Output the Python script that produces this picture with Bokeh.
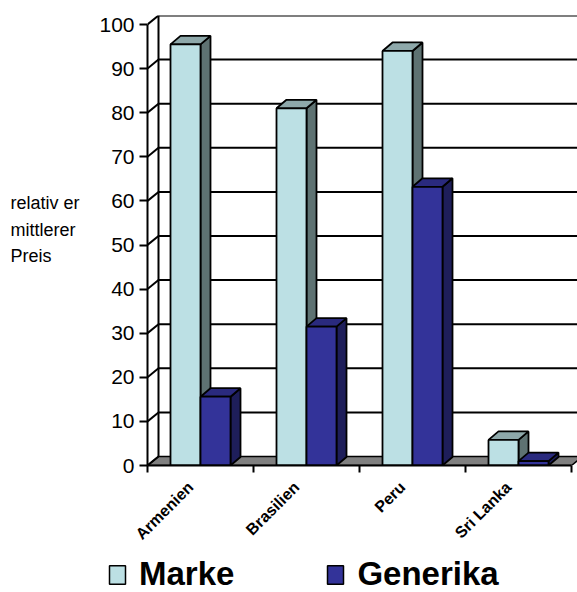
from math import pi
from bokeh.plotting import figure
from bokeh.layouts import row, column
from bokeh.models import Range1d, LinearAxis, FixedTicker, Legend, LegendItem
from bokeh.core.properties import value
from bokeh.embed import file_html
from bokeh.resources import INLINE

# ---- data ----
categories = ["Armenien", "Brasilien", "Peru", "Sri Lanka"]
marke = [95.5, 81, 94, 5.8]
generika = [15.6, 31.5, 63.2, 1]
series_names = ["Marke", "Generika"]
y_ticks = [0, 10, 20, 30, 40, 50, 60, 70, 80, 90, 100]
y_title_lines = ["relativ er", "mittlerer", "Preis"]

# ---- layout ----
W, H = 577, 592
WT = 95                       # width of the y-title strip
HL = 38                       # height of the legend strip
HM = H - HL                   # height of the main chart
L, R, T, B = 147, 0, 15, HM - 465
cat_px, unit_px = 106.0, 4.41
x_end = (W - L - R) / cat_px
y_end = (HM - T - B) / unit_px
bw = 30 / cat_px                       # bar width
dx, dy = 10 / cat_px, 8.5 / unit_px    # bar depth
wdx, wdy = 11 / cat_px, 9 / unit_px    # wall depth
n = len(categories)

colors = {
    "Marke": ("#BCE0E4", "#5E7272", "#8EA8AA"),
    "Generika": ("#333399", "#1E1E5A", "#2A2A7E"),
}


def blank(fig):
    fig.outline_line_color = None
    fig.xgrid.visible = False
    fig.ygrid.visible = False
    return fig


# ---- y title strip (its frame is aligned with the chart frame: page y 15..465) ----
tf = blank(figure(width=WT, height=HM, x_range=Range1d(0, WT), y_range=Range1d(HM - B, T),
                  output_backend="svg", toolbar_location=None,
                  x_axis_location=None, y_axis_location=None, min_border=0))
title_px_y = [202, 229, 255]
tf.text(x=[10] * len(y_title_lines), y=title_px_y, text=y_title_lines,
        text_font=value("Liberation Sans"), text_font_size="18px",
        text_baseline="middle", text_color="black")

# ---- main chart ----
p = blank(figure(width=W - WT, height=HM, x_range=Range1d(0, x_end), y_range=Range1d(0, y_end),
                 output_backend="svg", toolbar_location=None,
                 x_axis_location=None, y_axis_location=None,
                 min_border_left=L - WT, min_border_right=R, min_border_top=T,
                 min_border_bottom=B))

# floor
p.patch([0, n, n + wdx, wdx], [0, 0, wdy, wdy], fill_color="#808080",
        line_color="black", line_width=1.5)

# back wall grid lines and side connectors
gy = [v for v in y_ticks if v > 0]
p.segment(x0=[wdx] * len(gy), y0=[v + wdy for v in gy], x1=[x_end + 1] * len(gy),
          y1=[v + wdy for v in gy], line_color="black", line_width=2)
p.segment(x0=[0] * len(y_ticks), y0=y_ticks, x1=[wdx] * len(y_ticks),
          y1=[v + wdy for v in y_ticks], line_color="black", line_width=2)
p.segment(x0=[wdx], y0=[wdy], x1=[wdx], y1=[max(y_ticks) + wdy],
          line_color="black", line_width=2)

for s, (name, vals) in enumerate(zip(series_names, [marke, generika])):
    front_c, side_c, top_c = colors[name]
    x0 = [i + 0.5 + (s - 1) * bw for i in range(n)]
    x1 = [a + bw for a in x0]
    side_xs = [[b, b + dx, b + dx, b] for b in x1]
    side_ys = [[0, dy, v + dy, v] for v in vals]
    top_xs = [[a, b, b + dx, a + dx] for a, b in zip(x0, x1)]
    top_ys = [[v, v, v + dy, v + dy] for v in vals]
    p.patches(side_xs, side_ys, fill_color=side_c, line_color="black", line_width=1.8)
    p.patches(top_xs, top_ys, fill_color=top_c, line_color="black", line_width=1.8)
    p.quad(left=x0, right=x1, bottom=[0] * n, top=vals, fill_color=front_c,
           line_color="black", line_width=1.8)

# axes
yaxis = LinearAxis(ticker=FixedTicker(ticks=y_ticks), bounds=(0, 100),
                   major_tick_out=8, major_tick_in=0, minor_tick_out=0, minor_tick_in=0,
                   axis_line_width=2, major_tick_line_width=2,
                   major_label_text_font="Liberation Sans", major_label_text_font_size="21px",
                   major_label_text_color="black", major_label_standoff=5)
p.add_layout(yaxis, "left")

label_shift = 10 / cat_px
label_pos = [i + 0.5 - label_shift for i in range(n)]
xaxis = LinearAxis(ticker=FixedTicker(ticks=label_pos, minor_ticks=list(range(n + 1))),
                   bounds=(0, n), major_tick_out=0, major_tick_in=0,
                   minor_tick_out=7, minor_tick_in=0, minor_tick_line_width=2,
                   minor_tick_line_color="black", axis_line_width=2,
                   major_label_overrides={c: lab for c, lab in zip(label_pos, categories)},
                   major_label_orientation=pi / 4,
                   major_label_text_font="Liberation Sans", major_label_text_font_style="bold",
                   major_label_text_font_size="16px", major_label_text_color="black",
                   major_label_standoff=12)
p.add_layout(xaxis, "below")

# ---- legend strip (swatch renderers sit outside the visible range) ----
lf = blank(figure(width=W, height=HL, x_range=Range1d(0, 1), y_range=Range1d(0, 1),
                  output_backend="svg", toolbar_location=None,
                  x_axis_location=None, y_axis_location=None, min_border=0))
items = []
for name in series_names:
    r = lf.quad(left=[5], right=[6], bottom=[5], top=[6], fill_color=colors[name][0],
                line_color="black", line_width=1.5)
    items.append(LegendItem(label=name, renderers=[r]))
legend = Legend(items=items, orientation="horizontal", location=(107, -1),
                label_text_font="Liberation Sans", label_text_font_style="bold",
                label_text_font_size="33px", label_text_color="black",
                glyph_width=20, glyph_height=23, label_standoff=12, spacing=91,
                padding=0, margin=0, border_line_color=None, background_fill_alpha=0)
lf.add_layout(legend)

open("out.html", "w").write(file_html(column(row(tf, p), lf), INLINE))
